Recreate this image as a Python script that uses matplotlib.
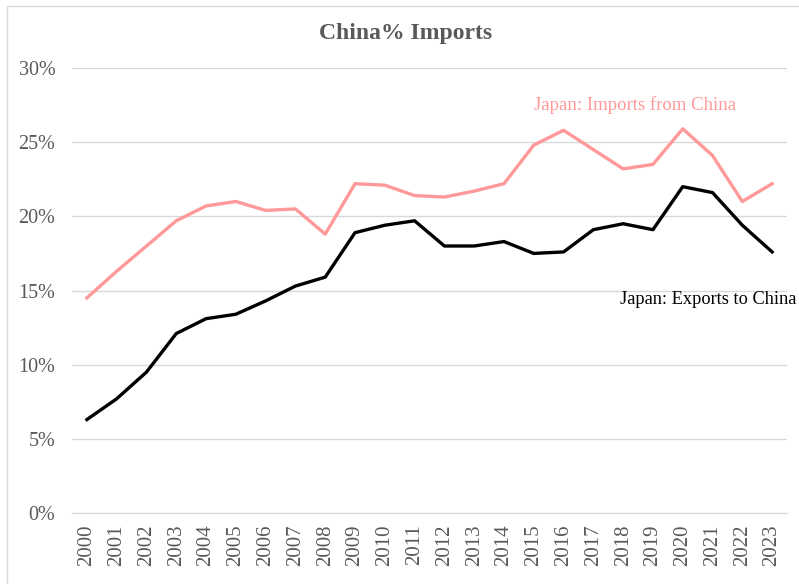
import matplotlib
matplotlib.use("Agg")
import matplotlib.pyplot as plt
from matplotlib.patches import Rectangle
from matplotlib.ticker import FuncFormatter

years = [str(y) for y in range(2000, 2024)]
imports_from_china = [14.5, 16.3, 18.0, 19.7, 20.7, 21.0, 20.4, 20.5, 18.8, 22.2, 22.1,
                      21.4, 21.3, 21.7, 22.2, 24.8, 25.8, 24.5, 23.2, 23.5, 25.9, 24.1, 21.0, 22.2]
exports_to_china = [6.3, 7.7, 9.5, 12.1, 13.1, 13.4, 14.3, 15.3, 15.9, 18.9, 19.4,
                    19.7, 18.0, 18.0, 18.3, 17.5, 17.6, 19.1, 19.5, 19.1, 22.0, 21.6, 19.4, 17.6]
y_ticks = [0, 5, 10, 15, 20, 25, 30]

plt.rcParams['font.family'] = ['Liberation Serif', 'DejaVu Serif']

W, H = 799, 584
fig = plt.figure(figsize=(W / 100, H / 100), dpi=100)
fig.patches.append(Rectangle((7 / W, -0.01), 1.0, 1 - 6 / H + 0.01, transform=fig.transFigure,
                             fill=False, edgecolor='#D9D9D9', linewidth=1))

ax = fig.add_axes([72 / W, 1 - 513 / H, (787 - 72) / W, (513 - 68) / H])
x = list(range(len(years)))
pink = '#FF9999'
ax.plot(x, imports_from_china, color=pink, linewidth=2.4, solid_joinstyle='round', zorder=3)
ax.plot(x, exports_to_china, color='black', linewidth=2.4, solid_joinstyle='round', zorder=3)

ax.set_xlim(-0.5, len(years) - 0.5)
ax.set_ylim(0, 30)
ax.set_yticks(y_ticks)
ax.yaxis.set_major_formatter(FuncFormatter(lambda v, p: f"{v:.0f}%"))
ax.set_xticks(x)
ax.set_xticklabels(years, rotation=90)
ax.grid(axis='y', color='#D9D9D9', linewidth=1)
ax.set_axisbelow(True)
for s in ['top', 'right', 'left']:
    ax.spines[s].set_visible(False)
ax.spines['bottom'].set_color('#D9D9D9')
ax.tick_params(axis='both', length=0, colors='#595959')
ax.tick_params(axis='y', labelsize=14.5, pad=12)
ax.tick_params(axis='x', labelsize=15, pad=8)

ax.text(15.0, 27.5, 'Japan: Imports from China', color=pink, fontsize=13.5, va='center', ha='left')
ax.text(17.88, 14.4, 'Japan: Exports to China', color='black', fontsize=13.2, va='center', ha='left',
        clip_on=False)

fig.text((319 + 492) / 2 / W, 1 - 33 / H, 'China% Imports', ha='center', va='center',
         fontsize=17, fontweight='bold', color='#595959')

fig.savefig('out.png', dpi=100)
